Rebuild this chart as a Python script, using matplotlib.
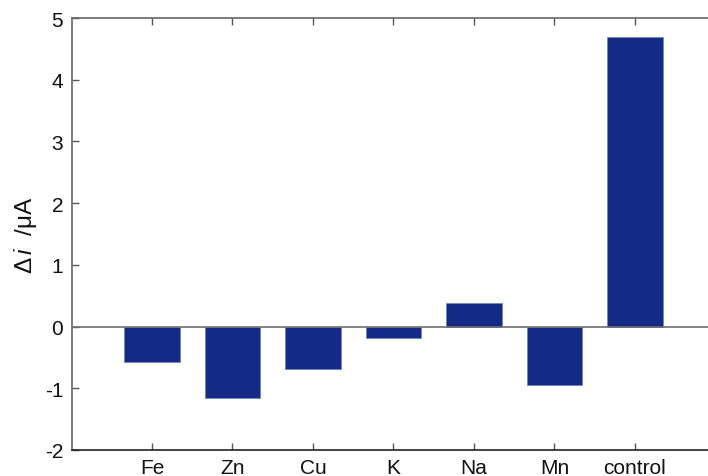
import matplotlib
matplotlib.use("Agg")
import matplotlib.pyplot as plt
import numpy as np

categories = ["Fe", "Zn", "Cu", "K", "Na", "Mn", "control"]
values = [-0.58, -1.16, -0.69, -0.185, 0.39, -0.95, 4.69]
yticks = [-2, -1, 0, 1, 2, 3, 4, 5]

plt.rcParams['font.family'] = ['Liberation Sans', 'DejaVu Sans']
plt.rcParams['mathtext.fontset'] = 'custom'
plt.rcParams['mathtext.rm'] = 'Liberation Sans'
plt.rcParams['mathtext.it'] = 'Liberation Sans:italic'

fig = plt.figure(figsize=(7.08, 4.77), dpi=100)
W, H = 708, 477
left, top, bottom = 71.5, 19, 451
unit = 80.5
ax = fig.add_axes([left / W, (H - bottom) / H, 8 * unit / W, (bottom - top) / H])

x = np.arange(1, len(categories) + 1)
ax.bar(x, values, width=0.69, color="#142a87", edgecolor="#6f86c9", linewidth=0.6, zorder=2)
ax.axhline(0, color="#6e6e6e", linewidth=1.2, zorder=3)

ax.set_xlim(0, 8)
ax.set_ylim(-2, 5)
ax.set_xticks(x)
ax.set_xticklabels(categories)
ax.set_yticks(yticks)
ax.set_yticklabels([str(t) for t in yticks])

for s in ax.spines.values():
    s.set_color("#666666")
    s.set_linewidth(1.2)
ax.spines['bottom'].set_color("#222222")
ax.spines['right'].set_visible(False)

ax.tick_params(axis='both', direction='in', length=5, width=1.0, color="#555555",
               labelsize=15, labelcolor="#111111")
ax.tick_params(axis='x', top=True, pad=6)
ax.tick_params(axis='y', pad=6)

ax.set_ylabel(r"$\Delta\,\mathit{i}\ \ /\mathrm{\mu}$A", fontsize=17.5, labelpad=4, color="#111111")

fig.savefig("out.png", dpi=100)
